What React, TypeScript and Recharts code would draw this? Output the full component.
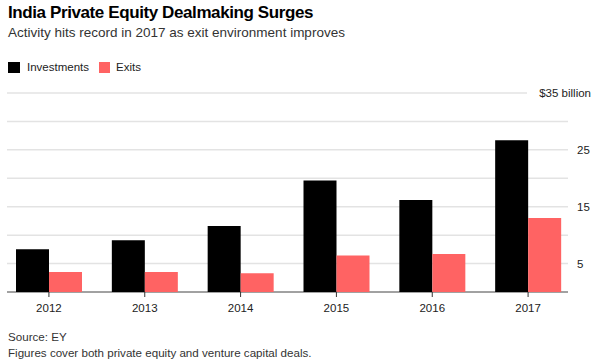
import React from 'react';
import { BarChart, Bar, XAxis, YAxis, CartesianGrid } from 'recharts';

const years = ['2012', '2013', '2014', '2015', '2016', '2017'];
const investments = [7.5, 9.1, 11.6, 19.6, 16.2, 26.7];
const exits = [3.5, 3.5, 3.3, 6.4, 6.7, 13.0];
const yTicks = [0, 5, 10, 15, 20, 25, 30, 35];
const labelledTicks = [5, 15, 25];

const data = years.map((year, i) => ({ year, Investments: investments[i], Exits: exits[i] }));

const FONT = '"Liberation Sans", Arial, Helvetica, sans-serif';
const INV_COLOR = '#000000';
const EXIT_COLOR = '#ff6363';
const GRID_COLOR = '#e3e3e3';
const TEXT_COLOR = '#222222';

const PLOT_TOP = 93;
const PLOT_BOTTOM = 292;

const gridLine = (p: any) => {
    const isBase = Math.abs(p.y1 - PLOT_BOTTOM) < 1;
    const isTop = Math.abs(p.y1 - PLOT_TOP) < 1;
    return (
        <line
            key={p.key}
            x1={p.x1 + 6}
            x2={isTop ? 527 : p.x2 - 8}
            y1={p.y1}
            y2={p.y2}
            stroke={isBase ? '#444' : GRID_COLOR}
            strokeWidth={isBase ? 1 : 1.5}
        />
    );
};

const YTick = (props: any) => {
    const { x, y, payload } = props;
    const v = payload.value;
    if (v === 35) {
        return (
            <text x={591} y={y} dy="0.35em" textAnchor="end" fill={TEXT_COLOR} fontSize={11.5} fontFamily={FONT}>
                $35 billion
            </text>
        );
    }
    if (!labelledTicks.includes(v)) return null;
    return (
        <text x={x} y={y} dy="0.35em" textAnchor="start" fill={TEXT_COLOR} fontSize={11.5} fontFamily={FONT}>
            {v}
        </text>
    );
};

const textBox = (top: number, size: number, extra: React.CSSProperties = {}): React.CSSProperties => ({
    position: 'absolute',
    left: 8,
    top,
    fontSize: size,
    lineHeight: `${Math.round(size * 1.2)}px`,
    fontFamily: FONT,
    color: TEXT_COLOR,
    whiteSpace: 'nowrap',
    ...extra,
});

export default function App() {
    return (
        <div style={{ position: 'absolute', left: 0, top: 0, width: 600, height: 364, background: '#fff', overflow: 'hidden' }}>
            <div style={textBox(3, 17, { fontWeight: 700, color: '#000', letterSpacing: -0.4 })}>
                India Private Equity Dealmaking Surges
            </div>
            <div style={textBox(25, 13.5, { color: '#333' })}>
                Activity hits record in 2017 as exit environment improves
            </div>
            <div style={{ ...textBox(60, 11.5), display: 'flex', alignItems: 'center' }}>
                <span style={{ display: 'inline-block', width: 12, height: 11, background: INV_COLOR, marginRight: 7 }} />
                <span style={{ marginRight: 10 }}>Investments</span>
                <span style={{ display: 'inline-block', width: 11, height: 11, background: EXIT_COLOR, marginRight: 6 }} />
                <span>Exits</span>
            </div>

            <div style={{ position: 'absolute', left: 0, top: 0 }}>
                <BarChart
                    width={600}
                    height={364}
                    data={data}
                    margin={{ top: PLOT_TOP, right: 0, left: 1, bottom: 0 }}
                    barGap={0}
                    barCategoryGap={15}
                >
                    <CartesianGrid vertical={false} horizontal={gridLine} />
                    <XAxis
                        dataKey="year"
                        axisLine={false}
                        tickLine={{ stroke: '#333' }}
                        tickSize={5}
                        tickMargin={7}
                        tick={{ fill: TEXT_COLOR, fontSize: 11.5, fontFamily: FONT }}
                        interval={0}
                        height={364 - PLOT_BOTTOM}
                    />
                    <YAxis
                        orientation="right"
                        domain={[0, 35]}
                        ticks={yTicks}
                        axisLine={false}
                        tickLine={false}
                        tickSize={0}
                        tickMargin={1}
                        width={24}
                        tick={<YTick />}
                        interval={0}
                    />
                    <Bar dataKey="Investments" fill={INV_COLOR} isAnimationActive={false} />
                    <Bar dataKey="Exits" fill={EXIT_COLOR} isAnimationActive={false} />
                </BarChart>
            </div>

            <div style={textBox(330, 11.6, { color: '#333' })}>Source: EY</div>
            <div style={textBox(346, 11.6, { color: '#333' })}>Figures cover both private equity and venture capital deals.</div>
        </div>
    );
}
